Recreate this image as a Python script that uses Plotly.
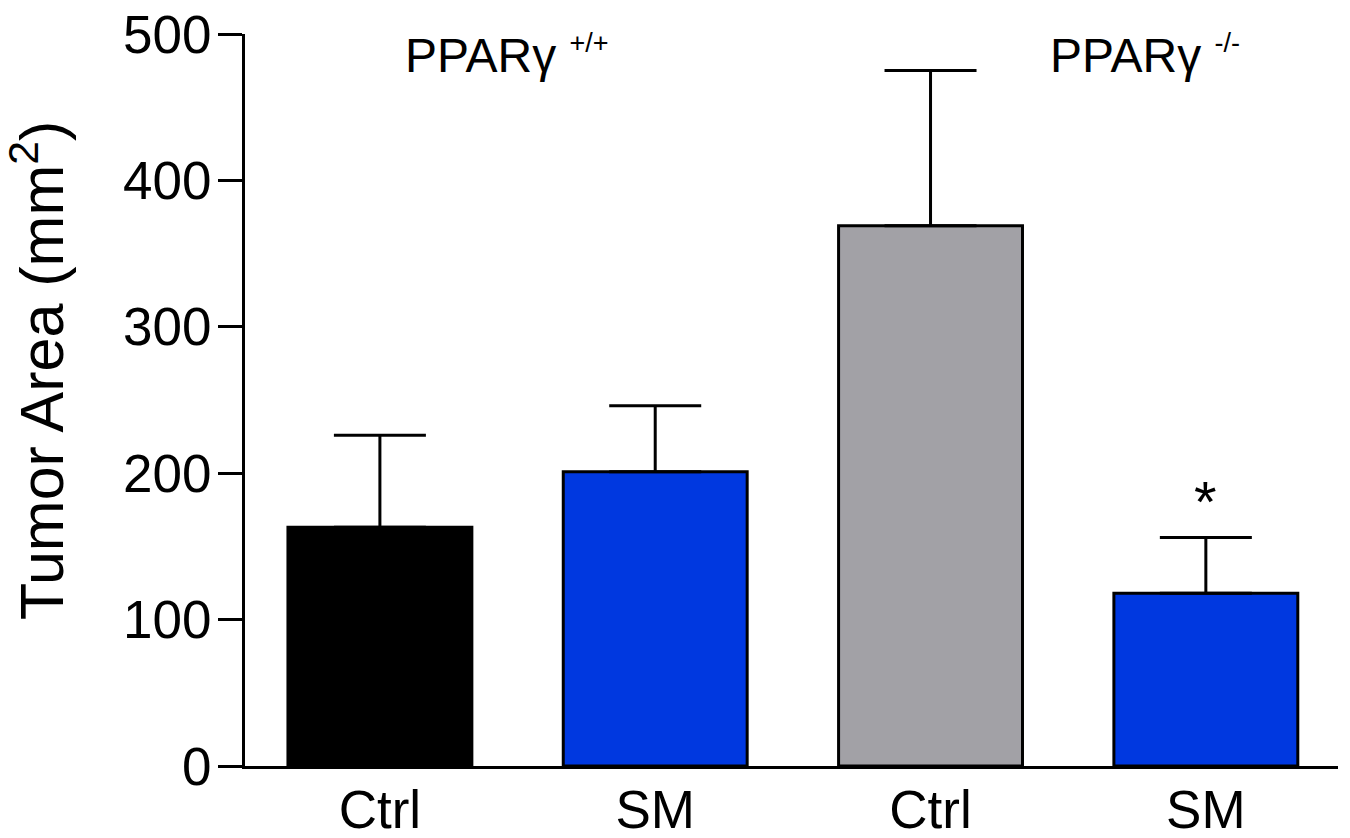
import plotly.graph_objects as go

categories = ["Ctrl", "SM", "Ctrl", "SM"]
means = [163, 201, 369, 118]
sem = [63, 45, 106, 38]
colors = ["#000000", "#0038E0", "#A2A1A6", "#0038E0"]
y_ticks = [0, 100, 200, 300, 400, 500]
groups = ["PPARγ", "PPARγ"]
group_sup = ["+/+", "-/-"]

x = list(range(len(categories)))

fig = go.Figure()
fig.add_trace(go.Bar(
    x=x, y=means, width=0.668,
    marker=dict(color=colors, line=dict(color="black", width=3)),
    error_y=dict(type="data", symmetric=False, array=sem,
                 arrayminus=[0] * len(sem), color="black", thickness=3, width=46),
    showlegend=False,
))

FONT = "Liberation Sans, Arial, sans-serif"

fig.update_layout(
    width=1350, height=838,
    margin=dict(l=245, r=12, t=34, b=72),
    paper_bgcolor="white", plot_bgcolor="white",
    font=dict(family=FONT, color="black"),
    xaxis=dict(range=[-0.49, 3.48], tickvals=x, ticktext=categories,
               showline=True, linecolor="black", linewidth=3, ticks="",
               tickfont=dict(size=53), showgrid=False, zeroline=False,
               ticklabelstandoff=-5, automargin=False),
    yaxis=dict(range=[0, 500], tickvals=y_ticks, showline=True,
               linecolor="black", linewidth=3, ticks="outside", ticklen=24,
               tickwidth=3, tickcolor="black", tickfont=dict(size=53),
               showgrid=False, zeroline=False, ticklabelstandoff=-4,
               automargin=False),
)

fig.add_annotation(text="Tumor Area (mm<sup>2</sup>)", textangle=-90,
                   xref="paper", yref="paper", x=-0.19, y=0.54,
                   xanchor="center", yanchor="middle", showarrow=False,
                   font=dict(size=61, family=FONT))

for xc, g, s in zip([0.46, 2.78], groups, group_sup):
    fig.add_annotation(text=f"{g} <sup><span style='font-size:27px'>{s}</span></sup>",
                       x=xc, y=1.0, xref="x", yref="paper",
                       yanchor="top", xanchor="center", yshift=8, showarrow=False,
                       font=dict(size=48, family=FONT))

fig.add_annotation(text="*", x=3, y=means[3] + sem[3], xref="x", yref="y",
                   yanchor="bottom", yshift=2, showarrow=False,
                   font=dict(size=58, family=FONT))

fig.write_html("out.html")
